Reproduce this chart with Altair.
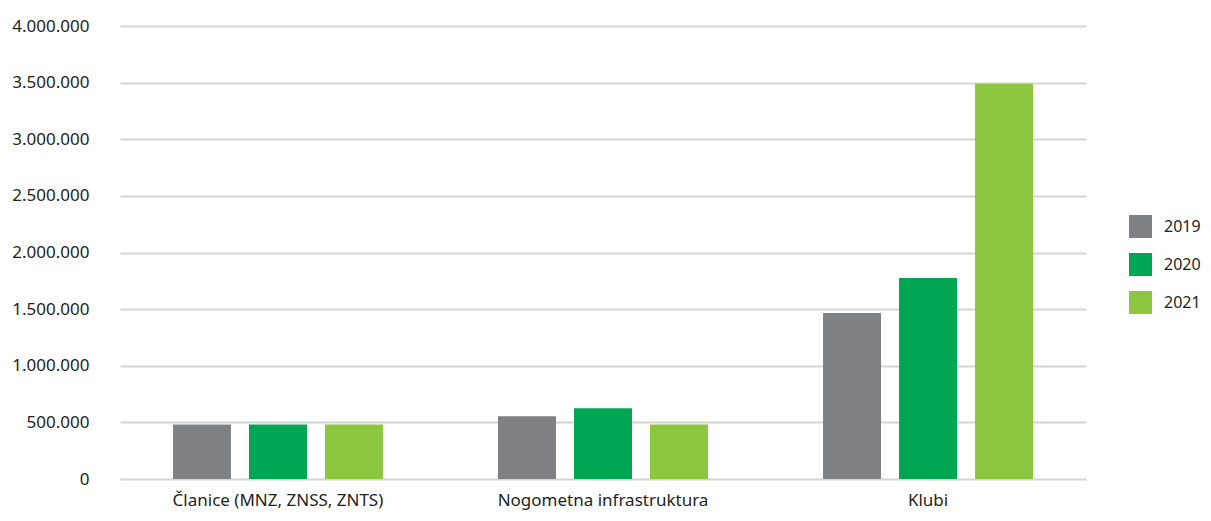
import altair as alt
import pandas as pd

categories = ["Članice (MNZ, ZNSS, ZNTS)", "Nogometna infrastruktura", "Klubi"]
years = ["2019", "2020", "2021"]
values_2019 = [482000, 555000, 1465000]
values_2020 = [482000, 625000, 1775000]
values_2021 = [482000, 482000, 3490000]
colors = ["#808184", "#00A651", "#8DC63F"]

rows = []
for i, c in enumerate(categories):
    for y, vals in zip(years, [values_2019, values_2020, values_2021]):
        rows.append({"cat": c, "year": y, "value": vals[i]})
df = pd.DataFrame(rows)

font = "Noto Sans"

chart = alt.Chart(df).mark_bar().encode(
    x=alt.X("cat:N", sort=categories, title=None,
            scale=alt.Scale(paddingInner=0.028, paddingOuter=0),
            axis=alt.Axis(labelAngle=0, ticks=False, domain=False, labelPadding=13,
                          labelFontSize=17, labelColor="#231f20", labelFont=font, grid=False,
                          labelLimit=0)),
    xOffset=alt.XOffset("year:N", sort=years,
                        scale=alt.Scale(paddingInner=0.237, paddingOuter=0.697)),
    y=alt.Y("value:Q", title=None,
            scale=alt.Scale(domain=[0, 4000000], nice=False),
            axis=alt.Axis(values=[0, 500000, 1000000, 1500000, 2000000, 2500000, 3000000, 3500000, 4000000],
                          labelExpr="replace(format(datum.value, ','), /,/g, '.')",
                          ticks=False, domain=False, labelPadding=31,
                          labelFontSize=17, labelColor="#231f20", labelFont=font,
                          gridColor="#d4d4d4", gridWidth=2)),
    color=alt.Color("year:N", sort=years, title=None,
                    scale=alt.Scale(domain=years, range=colors),
                    legend=alt.Legend(orient="none", legendX=1009, legendY=189,
                                      symbolType="square", symbolSize=529,
                                      symbolStrokeWidth=0, symbolOpacity=1,
                                      labelFontSize=16, labelFont=font, labelColor="#231f20",
                                      rowPadding=15, labelOffset=12)),
).properties(
    width=966, height=453,
    autosize=alt.AutoSizeParams(type="none"),
    padding={"left": 112, "top": 18, "right": 117, "bottom": 31},
).configure_view(stroke=None)

chart.save("out.html", embed_options={"renderer": "svg", "actions": False})
